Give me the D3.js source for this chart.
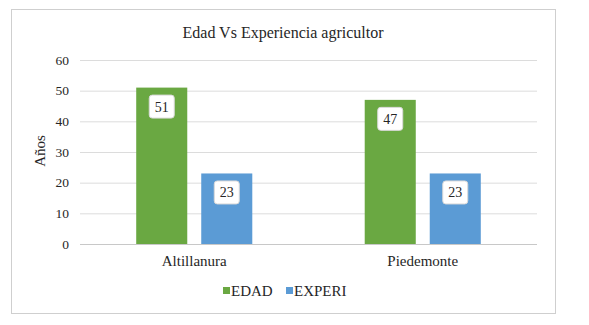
<!DOCTYPE html>
<html>
<head>
<meta charset="utf-8">
<script src="https://cdn.jsdelivr.net/npm/d3@7"></script>
<style>
  body { margin: 0; background: #fff; }
  svg text { font-family: 'Liberation Serif', 'DejaVu Serif', serif; fill: #262626; }
</style>
</head>
<body>
<div id="chart"></div>
<script>
//// ===================== DATA ===================== ////
var zonas = ["Altillanura", "Piedemonte"];
var series = ["EDAD", "EXPERI"];
var edad = [51, 47];
var experi = [23, 23];
var yTicks = [0, 10, 20, 30, 40, 50, 60];
var colors = ["#6aa842", "#5b9bd5"];

//// ===================== LAYOUT ===================== ////
var width = 589, height = 325;
var svg = d3.select("#chart").append("svg")
    .attr("width", width)
    .attr("height", height)
    .attr("font-family", "'Liberation Serif', serif");

// chart frame
svg.append("rect")
    .attr("x", 11.5).attr("y", 9.5)
    .attr("width", 544).attr("height", 304)
    .attr("fill", "#fff")
    .attr("stroke", "#cfcfcf");

var x0 = d3.scaleBand().domain(zonas).range([80, 537])
    .paddingInner(0.492).paddingOuter(0.246);
var x1 = d3.scaleBand().domain(series).range([0, x0.bandwidth()])
    .paddingInner(0.215);
var y = d3.scaleLinear().domain([0, 60]).range([244, 60]);

// gridlines
svg.append("g").selectAll("line")
    .data(yTicks)
    .enter().append("line")
    .attr("x1", 80).attr("x2", 537)
    .attr("y1", function(d) { return y(d) + 0.5; })
    .attr("y2", function(d) { return y(d) + 0.5; })
    .attr("stroke", function(d) { return d === 0 ? "#c8c8c8" : "#dcdcdc"; })
    .attr("stroke-width", 1);

// y tick labels
svg.append("g").selectAll("text")
    .data(yTicks)
    .enter().append("text")
    .attr("x", 69)
    .attr("y", function(d) { return y(d); })
    .attr("dy", "0.35em")
    .attr("text-anchor", "end")
    .style("font-size", "13.5px")
    .text(function(d) { return d; });

// y axis title
svg.append("text")
    .attr("transform", "translate(45,151) rotate(-90)")
    .attr("text-anchor", "middle")
    .style("font-size", "15px")
    .text("Años");

// title
svg.append("text")
    .attr("x", 283).attr("y", 38)
    .attr("text-anchor", "middle")
    .style("font-size", "16px")
    .text("Edad Vs Experiencia agricultor");

//// ===================== BARS ===================== ////
var rows = zonas.map(function(z, i) {
    return { zona: z, values: [
        { serie: series[0], value: edad[i] },
        { serie: series[1], value: experi[i] }
    ] };
});

var groups = svg.append("g").selectAll("g")
    .data(rows)
    .enter().append("g")
    .attr("transform", function(d) { return "translate(" + x0(d.zona) + ",0)"; });

groups.selectAll("rect")
    .data(function(d) { return d.values; })
    .enter().append("rect")
    .attr("x", function(d) { return x1(d.serie); })
    .attr("y", function(d) { return y(d.value); })
    .attr("width", x1.bandwidth())
    .attr("height", function(d) { return y(0) - y(d.value); })
    .attr("fill", function(d, i) { return colors[i]; });

// value labels in white boxes
var labels = groups.selectAll(".lbl")
    .data(function(d) { return d.values; })
    .enter().append("g")
    .attr("class", "lbl")
    .attr("transform", function(d) {
        return "translate(" + (x1(d.serie) + x1.bandwidth() / 2) + "," + (y(d.value) + 19) + ")";
    });

labels.append("rect")
    .attr("x", -12.5).attr("y", -11.5)
    .attr("width", 25).attr("height", 23)
    .attr("rx", 3)
    .attr("fill", "#fff")
    .attr("stroke", "#d9d9d9");

labels.append("text")
    .attr("text-anchor", "middle")
    .attr("dy", "0.35em")
    .style("font-size", "14px")
    .text(function(d) { return d.value; });

// category labels
svg.append("g").selectAll("text")
    .data(zonas)
    .enter().append("text")
    .attr("x", function(d) { return x0(d) + x0.bandwidth() / 2; })
    .attr("y", 266)
    .attr("text-anchor", "middle")
    .style("font-size", "15px")
    .text(function(d) { return d; });

//// ===================== LEGEND ===================== ////
var legendX = [223, 286];
var legend = svg.append("g").selectAll("g")
    .data(series)
    .enter().append("g")
    .attr("transform", function(d, i) { return "translate(" + legendX[i] + ",0)"; });

legend.append("rect")
    .attr("x", 0).attr("y", 287)
    .attr("width", 7).attr("height", 7)
    .attr("fill", function(d, i) { return colors[i]; });

legend.append("text")
    .attr("x", 8).attr("y", 296)
    .style("font-size", "15px")
    .text(function(d) { return d; });
</script>
</body>
</html>
